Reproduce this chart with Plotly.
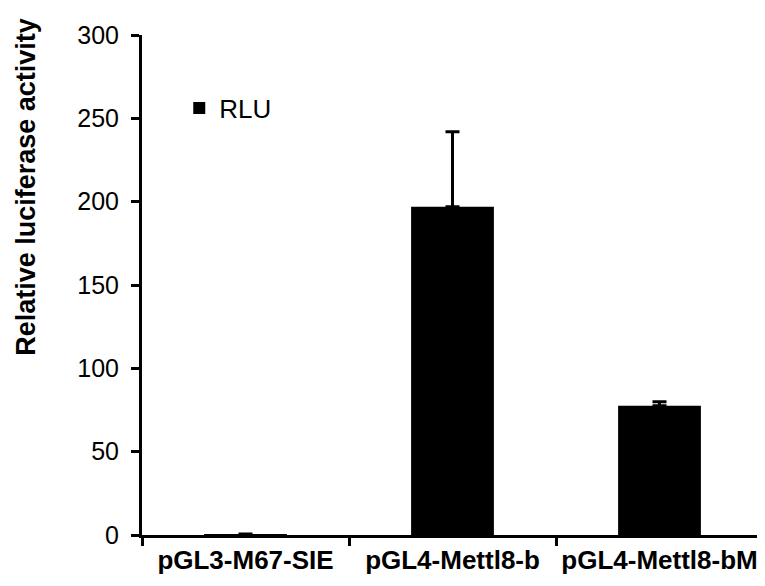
import plotly.graph_objects as go

categories = ["pGL3-M67-SIE", "pGL4-Mettl8-b", "pGL4-Mettl8-bM"]
rlu_values = [0.6, 197, 77.5]
rlu_errors = [0, 45, 2.5]
y_ticks = [0, 50, 100, 150, 200, 250, 300]

fig = go.Figure()
fig.add_trace(go.Bar(
    x=categories, y=rlu_values, name="RLU",
    marker=dict(color="black", line=dict(width=0)),
    error_y=dict(type="data", array=rlu_errors, symmetric=False,
                 arrayminus=[0, 0, 0], color="black", thickness=3, width=7),
    showlegend=True,
))

fig.add_annotation(
    text="<b>Relative luciferase activity</b>", textangle=-90,
    xref="paper", yref="paper", x=-0.187, y=0.696,
    xanchor="center", yanchor="middle", showarrow=False,
    font=dict(size=27),
)

fig.update_layout(
    width=765, height=586,
    margin=dict(l=134, r=10, t=27, b=59),
    paper_bgcolor="white", plot_bgcolor="white",
    bargap=0.6,
    font=dict(family="Liberation Sans, Arial, sans-serif", color="black"),
    showlegend=True,
    legend=dict(x=0.06, y=0.854, xanchor="left", yanchor="middle",
                font=dict(size=26), bgcolor="rgba(0,0,0,0)"),
    xaxis=dict(
        type="category", range=[-0.5, 2.5], automargin=False,
        showline=True, linecolor="black", linewidth=3,
        ticks="outside", tickson="boundaries", ticklen=8, tickwidth=3, tickcolor="black",
        tickangle=0,
        tickfont=dict(size=26, family="Liberation Sans, Arial, sans-serif", weight="bold"),
        showgrid=False,
    ),
    yaxis=dict(
        range=[0, 300], tickvals=y_ticks, automargin=False,
        showline=True, linecolor="black", linewidth=3,
        ticks="outside", ticklen=8, tickwidth=3, tickcolor="black",
        tickfont=dict(size=25), ticklabelstandoff=7,
        showgrid=False, zeroline=False,
    ),
)

fig.write_html("out.html")
